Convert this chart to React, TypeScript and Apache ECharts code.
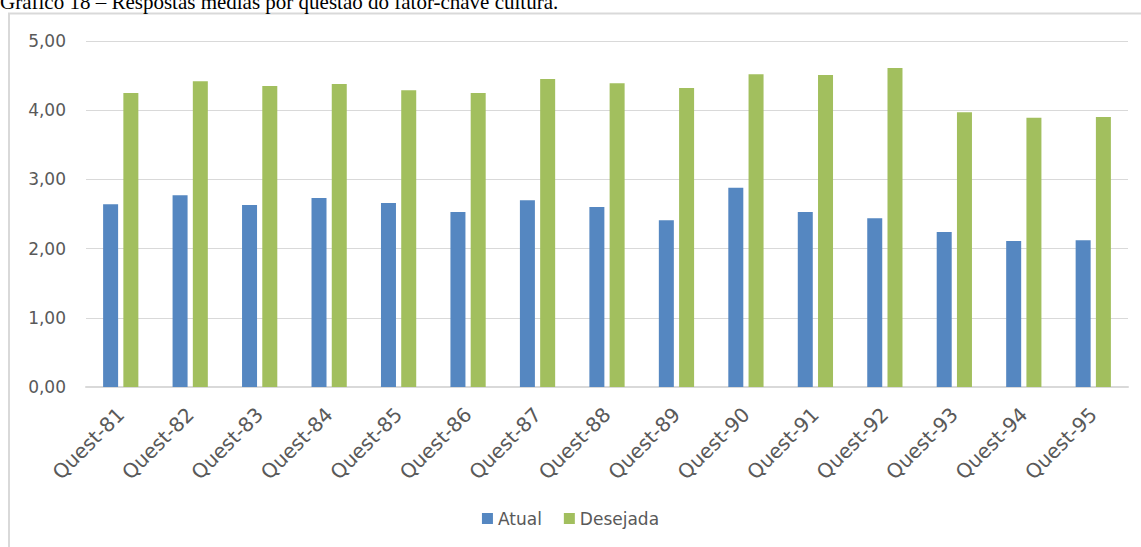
import React, { useEffect, useRef } from "react";
import * as echarts from "echarts";

const categories = [
  "Quest-81", "Quest-82", "Quest-83", "Quest-84", "Quest-85",
  "Quest-86", "Quest-87", "Quest-88", "Quest-89", "Quest-90",
  "Quest-91", "Quest-92", "Quest-93", "Quest-94", "Quest-95",
];
const atual = [2.64, 2.77, 2.63, 2.73, 2.66, 2.53, 2.70, 2.60, 2.41, 2.88, 2.53, 2.44, 2.24, 2.11, 2.12];
const desejada = [4.25, 4.42, 4.35, 4.38, 4.29, 4.25, 4.45, 4.39, 4.32, 4.52, 4.51, 4.61, 3.97, 3.89, 3.90];
const seriesNames = ["Atual", "Desejada"];
const titleText = "Gráfico 18 – Respostas médias por questão do fator-chave cultura.";

const W = 1141;
const H = 547;
const labelFont = "'DejaVu Sans', sans-serif";
const labelColor = "#595959";

export default function App() {
  const ref = useRef<HTMLDivElement>(null);
  useEffect(() => {
    if (!ref.current) return;
    const chart = echarts.init(ref.current, null, { renderer: "svg" });
    chart.setOption({
      animation: false,
      backgroundColor: "#ffffff",
      graphic: [
        {
          type: "rect",
          shape: { x: 9, y: 13.5, width: 1150, height: 560 },
          style: { fill: "none", stroke: "#d9d9d9", lineWidth: 2 },
          z: -1,
        },
        {
          type: "text",
          x: 0,
          y: 12,
          style: {
            text: titleText,
            font: "21px 'Liberation Serif', serif",
            fill: "#000000",
            verticalAlign: "bottom",
          },
        },
      ],
      legend: {
        data: seriesNames,
        top: 505,
        left: "center",
        icon: "rect",
        itemWidth: 11,
        itemHeight: 11,
        itemGap: 22,
        textStyle: { fontFamily: labelFont, fontSize: 17, color: labelColor },
      },
      grid: { left: 86, right: 13, top: 41, bottom: 160, containLabel: false },
      xAxis: {
        type: "category",
        data: categories,
        axisTick: { show: false },
        axisLine: { lineStyle: { color: "#d9d9d9", width: 2 } },
        axisLabel: {
          rotate: 45,
          margin: 24,
          interval: 0,
          fontFamily: labelFont,
          fontSize: 20,
          color: labelColor,
        },
      },
      yAxis: {
        type: "value",
        min: 0,
        max: 5,
        interval: 1,
        axisLine: { show: false },
        axisTick: { show: false },
        splitLine: { lineStyle: { color: "#d9d9d9", width: 1 } },
        axisLabel: {
          margin: 20,
          fontFamily: labelFont,
          fontSize: 17,
          color: labelColor,
          formatter: (v: number) => v.toFixed(2).replace(".", ","),
        },
      },
      series: [
        {
          name: seriesNames[0],
          type: "bar",
          data: atual,
          barWidth: 15,
          barGap: "35%",
          itemStyle: { color: "#5587C1" },
        },
        {
          name: seriesNames[1],
          type: "bar",
          data: desejada,
          barWidth: 15,
          itemStyle: { color: "#A2BF5E" },
        },
      ],
    });
    return () => chart.dispose();
  }, []);
  return (
    <div
      ref={ref}
      style={{ position: "absolute", left: 0, top: 0, width: W, height: H }}
    />
  );
}
